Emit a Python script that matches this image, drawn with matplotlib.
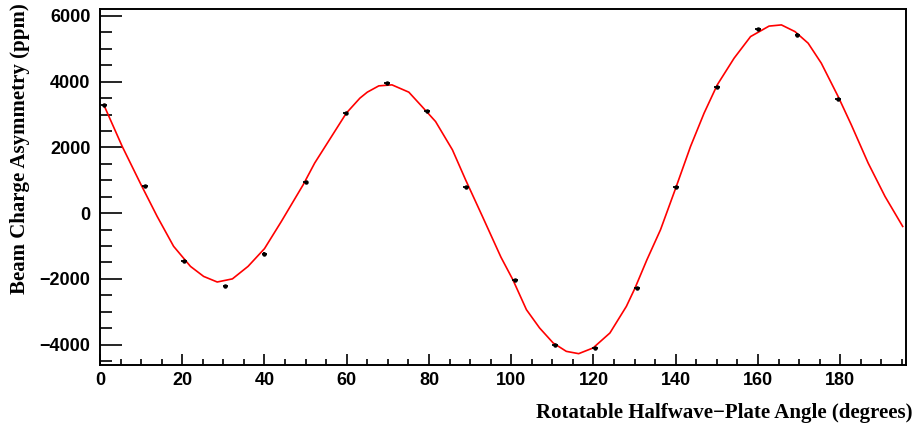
import matplotlib
matplotlib.use("Agg")
import matplotlib.pyplot as plt
from matplotlib.ticker import MultipleLocator

# Measured data points (angle in degrees, asymmetry in ppm)
angle = [1, 11, 20.5, 30.5, 40, 50, 59.7, 69.7, 79.5, 89, 101, 110.6, 120.4, 130.5, 140, 150, 160, 169.6, 179.5]
asym = [3300, 830, -1460, -2220, -1230, 950, 3040, 3960, 3110, 790, -2030, -4020, -4110, -2270, 800, 3830, 5600, 5430, 3460]
angle_err = [0.7] * len(angle)
asym_err = [35] * len(angle)

# Fit curve
fit_angle = [0.9, 5.4, 9.8, 13.9, 17.9, 22.0, 25.2, 28.5, 32.2, 36.0, 40.0, 44.1, 49.4, 52.2,
             56.3, 59.9, 63.2, 65.0, 67.8, 71.0, 75.1, 78.3, 81.6, 85.7, 88.9, 93.0, 97.5,
             100.4, 103.7, 106.9, 110.2, 113.4, 116.4, 119.9, 124.0, 128.0, 130.1, 133.0,
             136.3, 140.0, 143.6, 146.9, 150.1, 154.2, 158.2, 162.7, 165.7, 169.0, 172.2,
             175.4, 179.5, 182.7, 186.8, 190.9, 195.2]
fit_asym = [3300, 2030, 910, -100, -1010, -1620, -1925, -2095, -2000, -1620, -1080, -253, 862, 1522,
            2331, 3042, 3498, 3680, 3872, 3902, 3680, 3243, 2787, 1926, 1014, -101, -1340,
            -2026, -2938, -3494, -3950, -4205, -4275, -4102, -3646, -2837, -2280, -1418,
            -506, 762, 2027, 3042, 3902, 4714, 5371, 5690, 5726, 5523, 5170,
            4562, 3547, 2686, 1522, 507, -405]

x_ticks = [0, 20, 40, 60, 80, 100, 120, 140, 160, 180]
y_ticks = [-4000, -2000, 0, 2000, 4000, 6000]

fig = plt.figure(figsize=(9.18, 4.30), dpi=100)
ax = fig.add_axes([100 / 918, 1 - 365 / 430, 806 / 918, 356 / 430])

ax.plot(fit_angle, fit_asym, color="#ff0000", lw=1.2, zorder=2)
ax.errorbar(angle, asym, xerr=angle_err, yerr=asym_err, fmt="o", ms=2.2,
            color="black", ecolor="black", elinewidth=1.3, capsize=0, zorder=3)

ax.set_xlim(0, 196)
ax.set_ylim(-4620, 6210)
ax.set_xticks(x_ticks)
ax.set_yticks(y_ticks)
ax.xaxis.set_minor_locator(MultipleLocator(5))
ax.yaxis.set_minor_locator(MultipleLocator(500))

tick_font = dict(family="Liberation Sans", weight="bold", size=13)
ax.set_xticklabels([str(v) for v in x_ticks], fontdict=tick_font)
ax.set_yticklabels([str(v).replace("-", "\u2212") for v in y_ticks], fontdict=tick_font)

ax.tick_params(axis="y", which="major", direction="in", length=16, width=1.2, pad=7)
ax.tick_params(axis="y", which="minor", direction="in", length=8.5, width=1.2)
ax.tick_params(axis="x", which="major", direction="in", length=8, width=1.2, pad=5)
ax.tick_params(axis="x", which="minor", direction="in", length=4, width=1.2)
ax.tick_params(top=False, right=False, which="both")

for s in ax.spines.values():
    s.set_linewidth(1.4)

title_font = dict(family="Liberation Serif", weight="bold", size=15)
fig.text(912 / 918, 1 - 413 / 430, "Rotatable Halfwave\u2212Plate Angle (degrees)",
         ha="right", va="center", **title_font)
fig.text(20 / 918, 1 - 3 / 430, "Beam Charge Asymmetry (ppm)",
         ha="center", va="top", rotation=90, **title_font)

fig.savefig("out.png", dpi=100)
